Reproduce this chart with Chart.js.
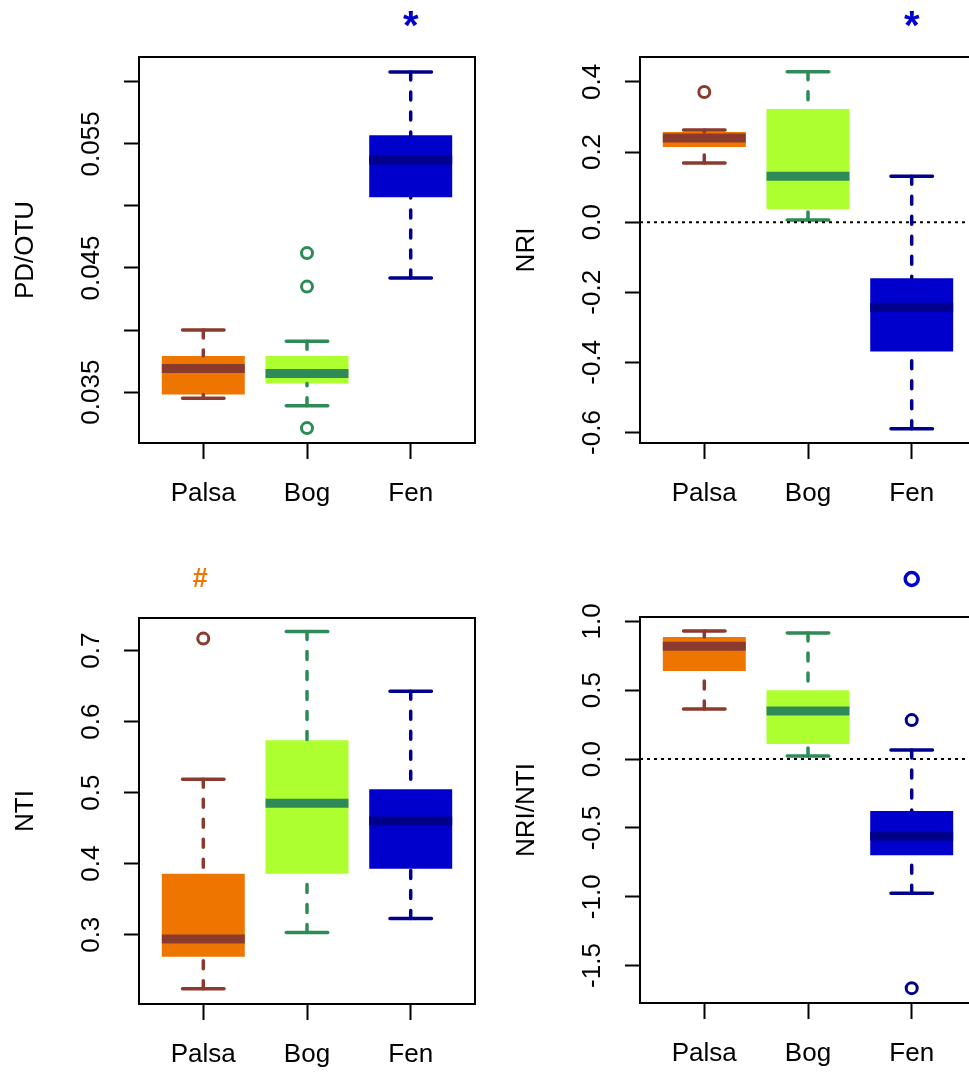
<!DOCTYPE html>
<html>
<head>
<meta charset="utf-8">
<script src="https://cdn.jsdelivr.net/npm/chart.js@4.4.1/dist/chart.umd.min.js"></script>
<style>
  html, body { margin: 0; padding: 0; background: #fff; overflow: hidden; }
  body { width: 969px; height: 1085px; position: relative; }
  canvas { position: absolute; }
</style>
</head>
<body>
<canvas id="c1" width="485" height="540" style="left:0px;top:0px"></canvas>
<canvas id="c2" width="485" height="540" style="left:501px;top:0px"></canvas>
<canvas id="c3" width="485" height="540" style="left:0px;top:561px"></canvas>
<canvas id="c4" width="485" height="540" style="left:501px;top:560px"></canvas>
<script>
var groups = ["Palsa", "Bog", "Fen"];
var fills = ["#EE7600", "#ADFF2F", "#0000CD"];
var borders = ["#8B3A2E", "#2E8B57", "#00008B"];
var fontFamily = "'Liberation Sans', Arial, Helvetica, sans-serif";

// PD/OTU
var pdMin = [0.0345, 0.0339, 0.0442];
var pdQ1 = [0.0348, 0.0357, 0.0507];
var pdMed = [0.0369, 0.0365, 0.0537];
var pdQ3 = [0.0379, 0.0379, 0.0557];
var pdMax = [0.0400, 0.0391, 0.0608];
var pdOut = [[], [0.0462, 0.0435, 0.0321], []];
var pdTicks = [0.035, 0.040, 0.045, 0.050, 0.055, 0.060];
var pdTickLabels = ["0.035", "", "0.045", "", "0.055", ""];
var pdSig = ["", "", "*"];

// NRI
var nriMin = [0.169, 0.006, -0.589];
var nriQ1 = [0.214, 0.037, -0.369];
var nriMed = [0.240, 0.131, -0.243];
var nriQ3 = [0.257, 0.323, -0.160];
var nriMax = [0.263, 0.429, 0.131];
var nriOut = [[0.371], [], []];
var nriTicks = [-0.6, -0.4, -0.2, 0.0, 0.2, 0.4];
var nriTickLabels = ["-0.6", "-0.4", "-0.2", "0.0", "0.2", "0.4"];
var nriSig = ["", "", "*"];

// NTI
var ntiMin = [0.224, 0.303, 0.323];
var ntiQ1 = [0.269, 0.386, 0.393];
var ntiMed = [0.294, 0.485, 0.460];
var ntiQ3 = [0.386, 0.574, 0.505];
var ntiMax = [0.519, 0.727, 0.643];
var ntiOut = [[0.717], [], []];
var ntiTicks = [0.3, 0.4, 0.5, 0.6, 0.7];
var ntiTickLabels = ["0.3", "0.4", "0.5", "0.6", "0.7"];
var ntiSig = ["#", "", ""];

// NRI/NTI
var ratioMin = [0.363, 0.022, -0.974];
var ratioQ1 = [0.640, 0.109, -0.698];
var ratioMed = [0.820, 0.349, -0.560];
var ratioQ3 = [0.887, 0.500, -0.378];
var ratioMax = [0.930, 0.915, 0.065];
var ratioOut = [[], [], [0.283, -1.664]];
var ratioTicks = [-1.5, -1.0, -0.5, 0.0, 0.5, 1.0];
var ratioTickLabels = ["-1.5", "-1.0", "-0.5", "0.0", "0.5", "1.0"];
var ratioSig = ["", "", "o"];

// whiskers, staples, medians, frame, y labels, markers
var boxExtras = {
  id: "boxExtras",
  afterDatasetsDraw: function (chart) {
    var d = chart.options.plugins.boxExtras;
    var ctx = chart.ctx;
    var xs = chart.scales.x, ys = chart.scales.y;
    var area = chart.chartArea;
    var bars = chart.getDatasetMeta(0).data;

    ctx.save();
    for (var i = 0; i < groups.length; i++) {
      var x = xs.getPixelForValue(i + 1);
      var w = bars[i].width;
      ctx.strokeStyle = borders[i];
      ctx.lineCap = "round";
      // whiskers (dashed), drawn from the extreme toward the box
      ctx.lineWidth = 3.5;
      ctx.setLineDash([8, 12]);
      ctx.beginPath();
      ctx.moveTo(x, ys.getPixelForValue(d.max[i]));
      ctx.lineTo(x, ys.getPixelForValue(d.q3[i]));
      ctx.moveTo(x, ys.getPixelForValue(d.min[i]));
      ctx.lineTo(x, ys.getPixelForValue(d.q1[i]));
      ctx.stroke();
      // staples
      ctx.setLineDash([]);
      ctx.beginPath();
      ctx.moveTo(x - w / 4, ys.getPixelForValue(d.max[i]));
      ctx.lineTo(x + w / 4, ys.getPixelForValue(d.max[i]));
      ctx.moveTo(x - w / 4, ys.getPixelForValue(d.min[i]));
      ctx.lineTo(x + w / 4, ys.getPixelForValue(d.min[i]));
      ctx.stroke();
      // median
      ctx.lineCap = "butt";
      ctx.lineWidth = 9;
      ctx.beginPath();
      ctx.moveTo(x - w / 2, ys.getPixelForValue(d.med[i]));
      ctx.lineTo(x + w / 2, ys.getPixelForValue(d.med[i]));
      ctx.stroke();
    }

    // dotted reference line
    if (d.refLine !== null) {
      var yr = ys.getPixelForValue(d.refLine);
      ctx.strokeStyle = "#000";
      ctx.lineWidth = 2;
      ctx.setLineDash([3, 4]);
      ctx.beginPath();
      ctx.moveTo(area.left, yr);
      ctx.lineTo(area.right, yr);
      ctx.stroke();
      ctx.setLineDash([]);
    }

    // frame
    ctx.strokeStyle = "#000";
    ctx.lineWidth = 2;
    ctx.strokeRect(area.left, area.top, area.right - area.left, area.bottom - area.top);

    // rotated y tick labels
    ctx.fillStyle = "#000";
    ctx.font = "26px " + fontFamily;
    ctx.textAlign = "center";
    ctx.textBaseline = "middle";
    for (var t = 0; t < d.ticks.length; t++) {
      if (!d.tickLabels[t]) continue;
      ctx.save();
      ctx.translate(area.left - 47, ys.getPixelForValue(d.ticks[t]));
      ctx.rotate(-Math.PI / 2);
      ctx.fillText(d.tickLabels[t], 0, 0);
      ctx.restore();
    }

    // significance markers above the frame
    for (var k = 0; k < groups.length; k++) {
      var s = d.sig[k];
      if (!s) continue;
      var mx = xs.getPixelForValue(k + 1);
      var my = area.top - 38;
      ctx.fillStyle = fills[k];
      ctx.strokeStyle = fills[k];
      if (s === "*") {
        ctx.font = "bold 40px " + fontFamily;
        ctx.textBaseline = "alphabetic";
        ctx.fillText(s, mx, my + 20);
      } else if (s === "#") {
        ctx.font = "bold 27px " + fontFamily;
        ctx.textBaseline = "middle";
        ctx.fillText(s, mx - 3, my);
      } else {
        ctx.lineWidth = 3.5;
        ctx.beginPath();
        ctx.arc(mx, my, 6.5, 0, Math.PI * 2);
        ctx.stroke();
      }
    }
    ctx.restore();
  }
};

function boxPanel(canvasId, d) {
  var boxes = groups.map(function (g, i) { return { x: i + 1, y: [d.q1[i], d.q3[i]] }; });
  var outPts = [], outCols = [];
  d.out.forEach(function (vals, i) {
    vals.forEach(function (v) { outPts.push({ x: i + 1, y: v }); outCols.push(borders[i]); });
  });

  return new Chart(document.getElementById(canvasId), {
    type: "bar",
    data: {
      datasets: [
        {
          data: boxes,
          backgroundColor: fills,
          borderWidth: 0,
          barPercentage: 0.8,
          categoryPercentage: 1.0
        },
        {
          type: "scatter",
          data: outPts,
          pointRadius: 5.5,
          pointBorderWidth: 3,
          pointBorderColor: outCols,
          pointBackgroundColor: "rgba(0,0,0,0)",
          clip: false
        }
      ]
    },
    options: {
      responsive: false,
      animation: false,
      events: [],
      layout: { padding: { left: 0, top: 57, right: 10, bottom: 0 } },
      plugins: {
        legend: { display: false },
        tooltip: { enabled: false },
        boxExtras: d
      },
      scales: {
        x: {
          type: "linear",
          min: 0.38,
          max: 3.62,
          offset: false,
          afterBuildTicks: function (s) { s.ticks = groups.map(function (g, i) { return { value: i + 1 }; }); },
          afterFit: function (s) { s.height = 97; },
          ticks: {
            callback: function (v) { return groups[v - 1]; },
            font: { size: 26, family: fontFamily },
            color: "#000",
            padding: 19,
            autoSkip: false,
            maxRotation: 0
          },
          grid: { offset: false, drawOnChartArea: false, tickLength: 16, tickWidth: 2, color: "#000" },
          border: { display: true, color: "#000", width: 2 }
        },
        y: {
          min: d.range[0],
          max: d.range[1],
          afterBuildTicks: function (s) { s.ticks = d.ticks.map(function (v) { return { value: v }; }); },
          afterFit: function (s) { s.width = 139; },
          ticks: { display: false },
          grid: { drawOnChartArea: false, tickLength: 15, tickWidth: 2, color: "#000" },
          border: { display: true, color: "#000", width: 2 },
          title: {
            display: true,
            text: d.title,
            color: "#000",
            font: { size: 26, family: fontFamily },
            padding: { top: 10, bottom: 0 }
          }
        }
      }
    },
    plugins: [boxExtras]
  });
}

boxPanel("c1", {
  title: "PD/OTU", range: [0.0309, 0.0620], refLine: null,
  min: pdMin, q1: pdQ1, med: pdMed, q3: pdQ3, max: pdMax, out: pdOut,
  ticks: pdTicks, tickLabels: pdTickLabels, sig: pdSig
});
boxPanel("c2", {
  title: "NRI", range: [-0.630, 0.471], refLine: 0,
  min: nriMin, q1: nriQ1, med: nriMed, q3: nriQ3, max: nriMax, out: nriOut,
  ticks: nriTicks, tickLabels: nriTickLabels, sig: nriSig
});
boxPanel("c3", {
  title: "NTI", range: [0.2025, 0.746], refLine: null,
  min: ntiMin, q1: ntiQ1, med: ntiMed, q3: ntiQ3, max: ntiMax, out: ntiOut,
  ticks: ntiTicks, tickLabels: ntiTickLabels, sig: ntiSig
});
boxPanel("c4", {
  title: "NRI/NTI", range: [-1.772, 1.032], refLine: 0,
  min: ratioMin, q1: ratioQ1, med: ratioMed, q3: ratioQ3, max: ratioMax, out: ratioOut,
  ticks: ratioTicks, tickLabels: ratioTickLabels, sig: ratioSig
});
</script>
</body>
</html>
